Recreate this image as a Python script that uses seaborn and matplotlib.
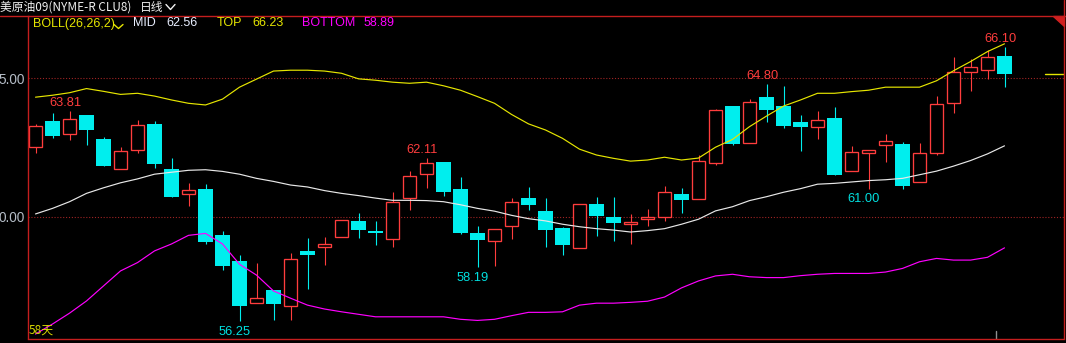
import numpy as np
import pandas as pd
import matplotlib
matplotlib.use("Agg")
import matplotlib.pyplot as plt
import seaborn as sns
from matplotlib.patches import Polygon
from matplotlib.lines import Line2D

# ---------------- data ----------------
opens = [62.52, 63.45, 62.99, 63.67, 62.81, 61.72, 62.41, 63.35, 61.73, 60.82,
         61.01, 59.35, 58.42, 56.91, 57.37, 56.80, 58.78, 58.92, 59.28, 59.86,
         59.50, 59.21, 60.68, 61.55, 61.98, 61.01, 59.42, 59.14, 59.68, 60.68,
         60.22, 59.60, 58.88, 60.47, 60.00, 59.75, 59.93, 60.00, 60.83, 60.65,
         61.94, 63.99, 62.66, 64.32, 63.99, 63.42, 63.24, 63.56, 61.65, 62.30,
         62.59, 62.63, 61.26, 62.30, 64.10, 65.22, 65.29, 65.79]
highs = [63.35, 63.74, 63.81, 63.67, 62.88, 62.53, 63.49, 63.45, 62.12, 61.23,
         61.19, 59.50, 58.63, 58.35, 57.37, 58.71, 59.24, 59.28, 59.89, 60.14,
         59.86, 60.90, 61.65, 62.11, 61.98, 61.44, 59.68, 59.57, 60.68, 61.08,
         60.68, 59.64, 60.47, 60.72, 60.72, 60.11, 60.29, 61.12, 61.04, 62.23,
         63.88, 63.99, 64.24, 64.80, 64.71, 63.67, 63.81, 63.96, 62.55, 62.41,
         62.99, 62.70, 62.66, 64.35, 65.76, 65.68, 66.01, 66.10]
lows = [62.30, 62.84, 62.77, 62.59, 61.83, 61.72, 62.30, 61.78, 60.73, 60.41,
        59.03, 58.09, 56.25, 56.91, 56.29, 56.29, 57.41, 58.27, 59.28, 59.24,
        58.99, 58.92, 60.25, 61.04, 60.77, 59.39, 58.19, 58.24, 59.21, 60.25,
        58.92, 58.63, 58.88, 59.32, 59.14, 59.03, 59.68, 59.86, 60.14, 60.65,
        61.87, 62.59, 62.66, 63.42, 63.20, 62.37, 62.81, 61.51, 61.65, 61.00,
        61.98, 61.01, 61.26, 62.23, 63.74, 64.53, 64.96, 64.68]
closes = [63.27, 62.91, 63.53, 63.13, 61.83, 62.37, 63.31, 61.89, 60.73, 60.97,
          59.10, 58.24, 56.80, 57.09, 56.87, 58.49, 58.63, 59.03, 59.89, 59.53,
          59.42, 60.54, 61.47, 61.94, 60.91, 59.42, 59.17, 59.57, 60.54, 60.43,
          59.53, 58.99, 60.47, 60.04, 59.78, 59.82, 60.00, 60.90, 60.61, 62.01,
          63.85, 62.63, 64.14, 63.85, 63.27, 63.24, 63.49, 61.51, 62.34, 62.41,
          62.73, 61.12, 62.30, 64.06, 65.22, 65.40, 65.76, 65.14]

boll_top = [64.31, 64.38, 64.47, 64.62, 64.52, 64.41, 64.45, 64.35, 64.21, 64.09,
            64.03, 64.24, 64.67, 64.96, 65.25, 65.28, 65.28, 65.25, 65.17, 64.97,
            64.92, 64.85, 64.81, 64.85, 64.72, 64.56, 64.33, 64.09, 63.69, 63.35,
            63.13, 62.83, 62.44, 62.23, 62.11, 62.01, 62.05, 62.15, 62.05, 62.12,
            62.51, 62.79, 63.25, 63.63, 63.99, 64.21, 64.45, 64.45, 64.51, 64.56,
            64.67, 64.67, 64.67, 64.90, 65.26, 65.59, 65.95, 66.23]
boll_mid = [60.11, 60.31, 60.55, 60.85, 61.05, 61.23, 61.37, 61.54, 61.61, 61.68,
            61.70, 61.64, 61.54, 61.39, 61.28, 61.15, 61.08, 60.95, 60.85, 60.77,
            60.68, 60.60, 60.60, 60.59, 60.55, 60.44, 60.31, 60.21, 60.06, 59.94,
            59.86, 59.74, 59.65, 59.58, 59.53, 59.46, 59.51, 59.58, 59.74, 59.92,
            60.22, 60.37, 60.59, 60.73, 60.89, 61.02, 61.18, 61.21, 61.26, 61.31,
            61.34, 61.39, 61.52, 61.65, 61.83, 62.03, 62.27, 62.56]
boll_bottom = [55.79, 56.15, 56.54, 56.98, 57.52, 58.06, 58.36, 58.78, 59.03, 59.34,
               59.41, 59.03, 58.30, 57.91, 57.34, 57.08, 56.83, 56.69, 56.59, 56.50,
               56.41, 56.41, 56.41, 56.41, 56.41, 56.32, 56.28, 56.32, 56.45, 56.57,
               56.57, 56.59, 56.83, 56.90, 56.90, 56.93, 56.97, 57.12, 57.45, 57.70,
               57.88, 57.94, 57.85, 57.82, 57.82, 57.89, 57.94, 57.97, 57.97, 57.97,
               58.02, 58.15, 58.39, 58.51, 58.45, 58.45, 58.55, 58.89]

high_label_idx = [2, 23, 43, 57]
low_label_idx = [12, 26, 49]

ytick_values = [65, 60]
ytick_labels = ["5.00", "0.00"]

title_text = "美原油09(NYME-R CLU8)"
period_text = "日线"
boll_name = "BOLL(26,26,2)"
day_count_text = "58天"

# ---------------- style ----------------
W, H = 1066, 343
BG = "#000000"
RED = "#ff3d3d"
CYAN = "#00eeee"
YELLOW = "#e6e600"
WHITE = "#e8e8e8"
MAGENTA = "#ff00ff"
FRAME = "#c41e1e"
GRID = "#a02424"

sns.set_theme(style="dark", rc={"axes.facecolor": BG, "figure.facecolor": BG})
plt.rcParams["font.family"] = ["Liberation Sans", "Noto Sans CJK SC", "DejaVu Sans"]

fig = plt.figure(figsize=(W / 100, H / 100), dpi=100)
fig.patch.set_facecolor(BG)


def fx(px):
    return px / W


def fy(py):
    return 1 - py / H


ax = fig.add_axes([fx(27.5), fy(338.5), fx(1063.5) - fx(27.5), fy(15.5) - fy(338.5)])
ax.set_facecolor(BG)

n = len(opens)
idx = np.arange(n)
o = np.array(opens); c = np.array(closes); h = np.array(highs); l = np.array(lows)
up = c >= o
body_lo = np.minimum(o, c)
body_hi = np.maximum(o, c)
body_h = np.maximum(body_hi - body_lo, 0.06)
width = 15 / 17

# wicks
ax.vlines(idx[~up], l[~up], h[~up], color=CYAN, lw=0.8, zorder=1)
ax.vlines(idx[up], body_hi[up], h[up], color=RED, lw=0.8, zorder=1)
ax.vlines(idx[up], l[up], body_lo[up], color=RED, lw=0.8, zorder=1)
# bodies
ax.bar(idx[~up], body_h[~up], bottom=body_lo[~up], width=width, color=CYAN,
       edgecolor=CYAN, linewidth=0, zorder=2)
ax.bar(idx[up], body_h[up], bottom=body_lo[up], width=width - 0.06, color=BG,
       edgecolor=RED, linewidth=0.95, zorder=2)

# Bollinger lines via seaborn
df = pd.DataFrame({
    "idx": np.concatenate([idx, idx, idx]),
    "value": np.concatenate([boll_top, boll_mid, boll_bottom]),
    "line": ["TOP"] * n + ["MID"] * n + ["BOTTOM"] * n,
})
sns.lineplot(data=df, x="idx", y="value", hue="line",
             palette={"TOP": YELLOW, "MID": WHITE, "BOTTOM": MAGENTA},
             legend=False, lw=0.85, ax=ax, zorder=3, estimator=None)

# grid levels
for v in ytick_values:
    ax.axhline(v, color=GRID, lw=0.8, ls=(0, (1, 1.6)), zorder=0)

# last price marker
ax.axhline(closes[-1], xmin=(1045 - 27.5) / (1063.5 - 27.5), xmax=1, color=YELLOW, lw=1.0)
# small cursor tick
ax.axvline((n - 2 + n - 1) / 2, ymin=0, ymax=8 / 323, color="#909090", lw=1.0)

# labels for extremes
for i in high_label_idx:
    ax.annotate(f"{highs[i]:.2f}", xy=(i, highs[i]), xytext=(-3.2, 5.8),
                textcoords="offset points", ha="center", va="center",
                color=RED, fontsize=9.3, zorder=5)
for i in low_label_idx:
    ax.annotate(f"{lows[i]:.2f}", xy=(i, lows[i]), xytext=(-3.2, -7.4),
                textcoords="offset points", ha="center", va="center",
                color="#00e0e0", fontsize=9.3, zorder=5)

ax.set_xlim((27.5 - 35.5) / 17, (1063.5 - 35.5) / 17)
ax.set_ylim(60 - (338.5 - 217) / 27.8, 60 + (217 - 15.5) / 27.8)
ax.set_xticks([])
ax.set_yticks(ytick_values)
ax.set_yticklabels(ytick_labels)
ax.tick_params(axis="y", length=0, pad=2.2, labelsize=9.8, labelcolor="#b4bcc6")
ax.set_xlabel("")
ax.set_ylabel("")
ax.grid(False)
for side in ["left", "bottom", "right"]:
    ax.spines[side].set_visible(True)
    ax.spines[side].set_color(FRAME)
    ax.spines[side].set_linewidth(1.0)
ax.spines["top"].set_visible(False)

# frame lines that go beyond the axes
fig.add_artist(Line2D([0, 1], [fy(15.5), fy(15.5)], color=FRAME, lw=1.0))
fig.add_artist(Line2D([fx(1063.5), fx(1063.5)], [fy(15.5), 1], color=FRAME, lw=1.0))
fig.add_artist(Polygon([[fx(1053), fy(15.5)], [fx(1063.5), fy(15.5)], [fx(1063.5), fy(26)]],
                       closed=True, color="#d02020"))

# header
fig.text(fx(0), fy(7.5), title_text, color="#f0f0f0", fontsize=8.5, ha="left", va="center",
         family=["Noto Sans CJK SC", "DejaVu Sans"])
fig.text(fx(140), fy(7.5), period_text, color="#f0f0f0", fontsize=8.5, ha="left", va="center",
         family=["Noto Sans CJK SC", "DejaVu Sans"])
fig.add_artist(Line2D([fx(166), fx(170.5), fx(175)], [fy(4.5), fy(9.5), fy(4.5)],
                      color="#f0f0f0", lw=1.0))

# indicator line
yb = fy(23.5)
fig.text(fx(32.5), yb, boll_name, color=YELLOW, fontsize=9, ha="left", va="center")
fig.add_artist(Line2D([fx(114), fx(118.5), fx(123)], [fy(24.5), fy(28.5), fy(24.5)],
                      color=YELLOW, lw=1.0))
fig.text(fx(133), yb, "MID", color="#e8eeff", fontsize=9, ha="left", va="center")
fig.text(fx(166), yb, f"{boll_mid[-1]:.2f}", color="#e8eeff", fontsize=9, ha="left", va="center")
fig.text(fx(217), yb, "TOP", color=YELLOW, fontsize=9, ha="left", va="center")
fig.text(fx(252), yb, f"{boll_top[-1]:.2f}", color=YELLOW, fontsize=9, ha="left", va="center")
fig.text(fx(302), yb, "BOTTOM", color=MAGENTA, fontsize=9, ha="left", va="center")
fig.text(fx(364), yb, f"{boll_bottom[-1]:.2f}", color=MAGENTA, fontsize=9, ha="left", va="center")

# day count
fig.text(fx(28.5), fy(330), day_count_text, color="#d8d800", fontsize=8.6, ha="left", va="center",
         family=["Noto Sans CJK SC", "DejaVu Sans"])

fig.savefig("out.png", dpi=100, facecolor=BG)
